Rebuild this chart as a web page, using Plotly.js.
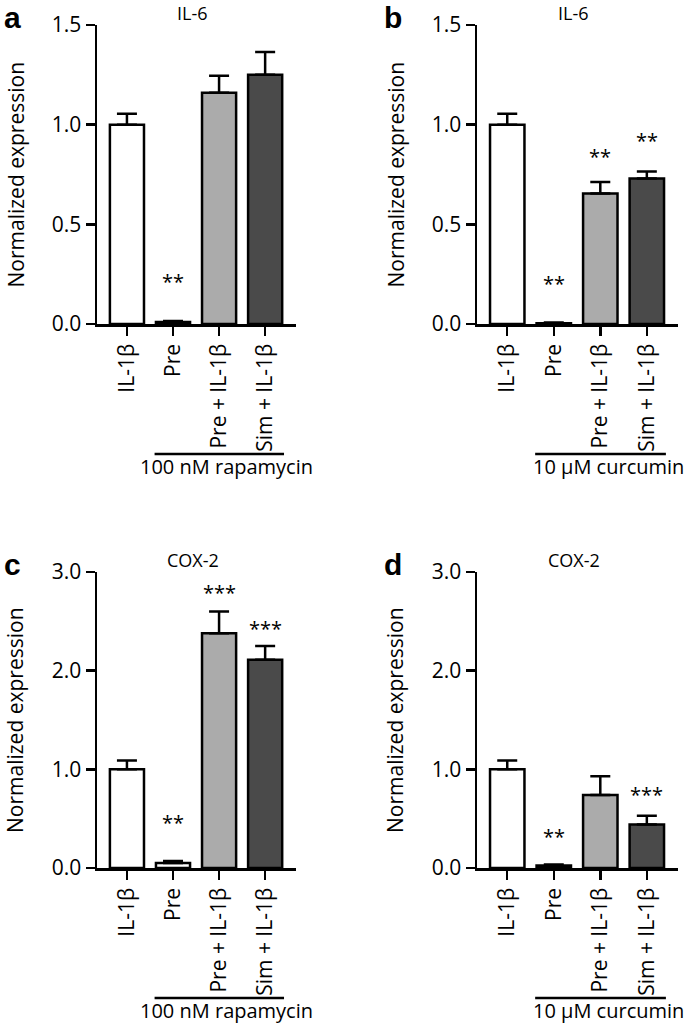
<!DOCTYPE html>
<html>
<head>
<meta charset="utf-8">
<script src="https://cdn.plot.ly/plotly-3.0.1.min.js"></script>
<style>html,body{margin:0;padding:0;background:#fff;}#chart{width:685px;height:1025px;}</style>
</head>
<body>
<div id="chart"></div>
<script>
// ---- data ----
const categories = ['IL-1β', 'Pre', 'Pre + IL-1β', 'Sim + IL-1β'];
const barColors = ['#ffffff', '#ffffff', '#ababab', '#4a4a4a'];

const il6Rapamycin = [1.00, 0.010, 1.16, 1.25];
const il6RapamycinErr = [0.055, 0.005, 0.085, 0.115];
const il6RapamycinSig = ['', '**', '', ''];

const il6Curcumin = [1.00, 0.004, 0.655, 0.73];
const il6CurcuminErr = [0.055, 0.003, 0.057, 0.035];
const il6CurcuminSig = ['', '**', '**', '**'];

const cox2Rapamycin = [1.00, 0.05, 2.38, 2.11];
const cox2RapamycinErr = [0.09, 0.02, 0.22, 0.14];
const cox2RapamycinSig = ['', '**', '***', '***'];

const cox2Curcumin = [1.00, 0.025, 0.74, 0.44];
const cox2CurcuminErr = [0.09, 0.01, 0.19, 0.09];
const cox2CurcuminSig = ['', '**', '', '***'];

const panelLetters = ['a', 'b', 'c', 'd'];
const panelTitles = ['IL-6', 'IL-6', 'COX-2', 'COX-2'];
const treatmentLabels = ['100 nM rapamycin', '10 μM curcumin', '100 nM rapamycin', '10 μM curcumin'];
const yTickValsTop = [0, 0.5, 1.0, 1.5];
const yTickValsBottom = [0, 1, 2, 3];

// ---- layout geometry (pixels of a 685x1025 canvas) ----
const W = 685, H = 1025;
const FONT = '"Open Sans", "Noto Sans", sans-serif';
const px = v => v / W;
const py = v => 1 - v / H;

const panels = [
  {vals: il6Rapamycin, err: il6RapamycinErr, sig: il6RapamycinSig, yr: [0, 1.5], tv: yTickValsTop,
   xd: [97, 296], yd: [324, 25], starY: [null, 0.215, null, null], labX: 0.27},
  {vals: il6Curcumin, err: il6CurcuminErr, sig: il6CurcuminSig, yr: [0, 1.5], tv: yTickValsTop,
   xd: [477, 678], yd: [324, 25], starY: [null, 0.205, 0.84, 0.92], labX: 0.54},
  {vals: cox2Rapamycin, err: cox2RapamycinErr, sig: cox2RapamycinSig, yr: [0, 3], tv: yTickValsBottom,
   xd: [97, 296], yd: [868, 572], starY: [null, 0.46, 2.79, 2.43], labX: 0.27},
  {vals: cox2Curcumin, err: cox2CurcuminErr, sig: cox2CurcuminSig, yr: [0, 3], tv: yTickValsBottom,
   xd: [477, 678], yd: [868, 572], starY: [null, 0.32, null, 0.75], labX: 0.54}
];

const traces = [];
const layout = {
  width: W, height: H,
  margin: {l: 0, r: 0, t: 0, b: 0},
  paper_bgcolor: '#fff', plot_bgcolor: 'rgba(0,0,0,0)',
  showlegend: false,
  font: {family: FONT, color: '#000', size: 21},
  annotations: [], shapes: []
};

panels.forEach((p, i) => {
  const n = i + 1;
  const xa = n === 1 ? 'x' : 'x' + n;
  const ya = n === 1 ? 'y' : 'y' + n;
  traces.push({
    type: 'bar', x: categories, y: p.vals, xaxis: xa, yaxis: ya,
    width: 0.74,
    marker: {color: barColors, line: {color: '#000', width: 2.5}},
    error_y: {type: 'data', symmetric: false, array: p.err, arrayminus: p.err.map(() => 0),
              color: '#000', thickness: 2.5, width: 10},
    hoverinfo: 'skip'
  });
  layout['xaxis' + (n === 1 ? '' : n)] = {
    domain: [px(p.xd[0]), px(p.xd[1])], anchor: ya, type: 'category',
    range: [-0.65, 3.67], showline: true, linewidth: 2.5, linecolor: '#000',
    ticks: 'outside', ticklen: 9, tickwidth: 2.5, tickcolor: '#000',
    tickangle: -90, tickfont: {family: FONT, size: 21, color: '#000'},
    showgrid: false, zeroline: false, fixedrange: true
  };
  layout['yaxis' + (n === 1 ? '' : n)] = {
    domain: [py(p.yd[0]), py(p.yd[1])], anchor: xa,
    range: p.yr, tickvals: p.tv, tickformat: '.1f',
    showline: true, linewidth: 2.5, linecolor: '#000',
    ticks: 'outside', ticklen: 9, tickwidth: 2.5, tickcolor: '#000',
    tickfont: {family: FONT, size: 21, color: '#000'},
    showgrid: false, zeroline: false, fixedrange: true
  };
  // significance stars
  p.sig.forEach((s, k) => {
    if (!s) return;
    layout.annotations.push({xref: xa, yref: ya, x: categories[k], y: p.starY[k], text: s,
      showarrow: false, yanchor: 'middle', font: {family: FONT, size: 20, color: '#000'}});
  });
  const cx = (p.xd[0] + p.xd[1]) / 2;
  const cy = (p.yd[0] + p.yd[1]) / 2;
  // y axis title
  layout.annotations.push({xref: 'paper', yref: 'paper', x: px(Math.max(0, p.xd[0] - 97)), y: py(cy),
    text: 'Normalized expression', textangle: -90, showarrow: false, borderpad: 0,
    xanchor: 'left', yanchor: 'middle', font: {family: FONT, size: 21, color: '#000'}});
  // panel title
  layout.annotations.push({xref: 'paper', yref: 'paper', x: px(cx - 4), y: py(p.yd[1] - 25),
    text: panelTitles[i], showarrow: false, xanchor: 'center', yanchor: 'top', borderpad: 0,
    font: {family: FONT, size: 18, color: '#000'}});
  // panel letter
  layout.annotations.push({xref: 'paper', yref: 'paper', x: px(p.xd[0] - 95), y: py(p.yd[1] - 8),
    text: '<b>' + panelLetters[i] + '</b>', showarrow: false, xanchor: 'left', yanchor: 'middle',
    font: {family: '"Liberation Sans", Arial, sans-serif', size: 30, color: '#000'}});
  // treatment bracket line + label
  layout.shapes.push({type: 'line', xref: xa, yref: 'paper', x0: 0.6, x1: 3.41,
    y0: py(p.yd[0] + 130), y1: py(p.yd[0] + 130), line: {color: '#000', width: 2.5}});
  layout.annotations.push({xref: xa, yref: 'paper', x: p.labX, y: py(p.yd[0] + 157),
    text: treatmentLabels[i], showarrow: false, xanchor: 'left', yanchor: 'bottom', borderpad: 0,
    font: {family: FONT, size: 20, color: '#000'}});
});

Plotly.newPlot('chart', traces, layout, {displayModeBar: false, staticPlot: true});
</script>
</body>
</html>
